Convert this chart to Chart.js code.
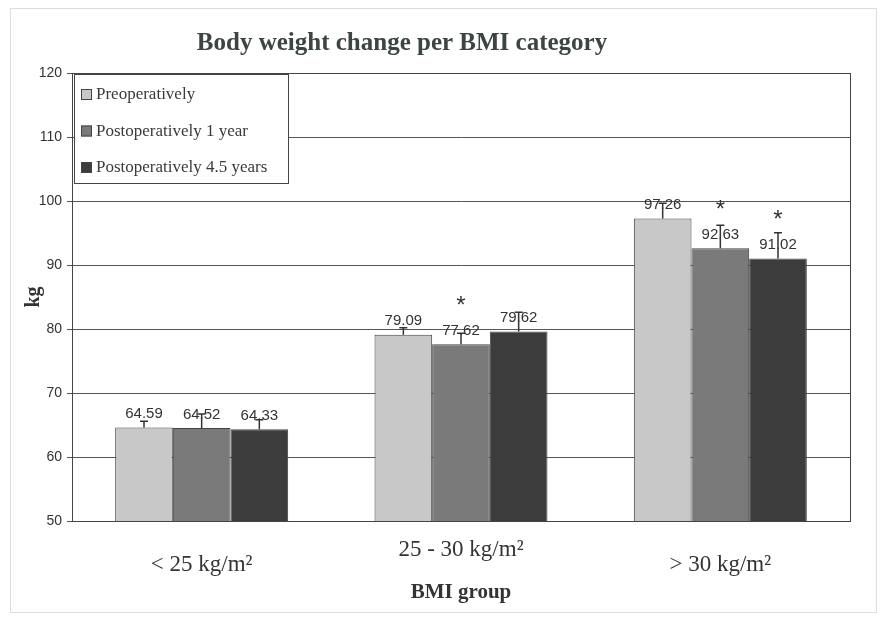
<!DOCTYPE html>
<html><head><meta charset="utf-8">
<script src="https://cdn.jsdelivr.net/npm/chart.js@4"></script>
<style>html,body{margin:0;padding:0;background:#fff}#w{width:884px;height:621px}</style>
</head><body><div id="w"><canvas id="c"></canvas></div>
<script>
const categories = ['< 25 kg/m²', '25 - 30 kg/m²', '> 30 kg/m²'];
const seriesNames = ['Preoperatively', 'Postoperatively 1 year', 'Postoperatively 4.5 years'];
const preop = [64.59, 79.09, 97.26];
const post1 = [64.52, 77.62, 92.63];
const post45 = [64.33, 79.62, 91.02];
const errPreop = [1.0, 1.1, 2.4];
const errPost1 = [2.2, 1.7, 3.6];
const errPost45 = [1.5, 3.0, 4.0];
const sigPreop = [false, false, false];
const sigPost1 = [false, true, true];
const sigPost45 = [false, false, true];
const yTicks = [50, 60, 70, 80, 90, 100, 110, 120];

const colors = ['#c8c8c8', '#7a7a7a', '#3c3c3c'];
const errs = [errPreop, errPost1, errPost45];
const sigs = [sigPreop, sigPost1, sigPost45];
const serif = '"Liberation Serif", "DejaVu Serif", serif';

const overlay = {
  id: 'overlay',
  afterDatasetsDraw(chart) {
    const ctx = chart.ctx, ys = chart.scales.y, a = chart.chartArea;
    ctx.save();
    ctx.strokeStyle = '#444'; ctx.lineWidth = 1;
    ctx.strokeRect(a.left + 0.5, a.top + 0.5, a.right - a.left, a.bottom - a.top);
    chart.data.datasets.forEach((ds, di) => {
      const meta = chart.getDatasetMeta(di);
      meta.data.forEach((bar, i) => {
        const v = ds.data[i];
        const top = ys.getPixelForValue(v);
        const et = ys.getPixelForValue(v + errs[di][i]);
        ctx.strokeStyle = '#333'; ctx.lineWidth = 1.5;
        ctx.beginPath(); ctx.moveTo(bar.x, top); ctx.lineTo(bar.x, et);
        ctx.moveTo(bar.x - 4, et); ctx.lineTo(bar.x + 4, et); ctx.stroke();
        ctx.fillStyle = '#333';
        ctx.font = '15px "Liberation Sans", Arial, sans-serif';
        ctx.textAlign = 'center'; ctx.textBaseline = 'bottom';
        ctx.fillText(v.toFixed(2), bar.x, top - 6);
        if (sigs[di][i]) {
          ctx.font = '24px "Liberation Sans", Arial, sans-serif';
          ctx.textBaseline = 'middle';
          ctx.fillText('*', bar.x, top - 38);
        }
      });
    });
    const lx = 74, ly = 74, lw = 214, lh = 109;
    ctx.fillStyle = '#fff'; ctx.fillRect(lx, ly, lw, lh);
    ctx.strokeStyle = '#444'; ctx.lineWidth = 1;
    ctx.strokeRect(lx + 0.5, ly + 0.5, lw, lh);
    seriesNames.forEach((n, k) => {
      const cy = 95 + k * 36.5;
      ctx.fillStyle = colors[k];
      ctx.fillRect(81, cy - 6, 11, 11);
      ctx.strokeStyle = '#444'; ctx.strokeRect(81.5, cy - 5.5, 10, 10);
      ctx.fillStyle = '#3a3a3a';
      ctx.font = '17px ' + serif;
      ctx.textAlign = 'left'; ctx.textBaseline = 'middle';
      ctx.fillText(n, 96, cy);
    });
    ctx.fillStyle = '#3c4444';
    ctx.font = 'bold 25px ' + serif;
    ctx.textAlign = 'center'; ctx.textBaseline = 'middle';
    ctx.fillText('Body weight change per BMI category', 402, 44);
    ctx.strokeStyle = '#ddd';
    ctx.strokeRect(10.5, 8.5, 866, 604);
    ctx.restore();
  }
};

new Chart(document.getElementById('c'), {
  type: 'bar',
  data: {
    labels: categories,
    datasets: [
      { label: seriesNames[0], data: preop, backgroundColor: colors[0] },
      { label: seriesNames[1], data: post1, backgroundColor: colors[1] },
      { label: seriesNames[2], data: post45, backgroundColor: colors[2] }
    ].map(d => Object.assign(d, { borderColor: '#444', borderWidth: 1, categoryPercentage: 0.667, barPercentage: 1.0 }))
  },
  options: {
    responsive: true, maintainAspectRatio: false, animation: false,
    layout: { padding: { top: 73, right: 34, left: 0, bottom: 0 } },
    plugins: { legend: { display: false }, tooltip: { enabled: false }, title: { display: false } },
    scales: {
      x: {
        grid: { display: false, drawTicks: true },
        border: { color: '#444' },
        ticks: {
          color: '#333', padding: 13,
          font: { family: serif, size: 23, lineHeight: 0.66 },
          callback: (v, i) => i % 2 === 0 ? ['', categories[i]] : categories[i],
          maxRotation: 0
        },
        title: { display: true, text: 'BMI group', color: '#333', padding: { top: 0, bottom: 16 },
          font: { family: serif, size: 21, weight: 'bold' } },
        afterFit: s => { s.height = 100; }
      },
      y: {
        min: 50, max: 120,
        afterBuildTicks: s => { s.ticks = yTicks.map(v => ({ value: v })); },
        grid: { color: '#555', lineWidth: 1, tickLength: 5 },
        border: { color: '#444' },
        ticks: { color: '#333', padding: 5, font: { family: '"Liberation Sans", Arial, sans-serif', size: 14 } },
        title: { display: true, text: 'kg', color: '#333', padding: { top: 22, bottom: 0 },
          font: { family: serif, size: 20, weight: 'bold' } },
        afterFit: s => { s.width = 72; }
      }
    }
  },
  plugins: [overlay]
});
</script>
</body></html>
